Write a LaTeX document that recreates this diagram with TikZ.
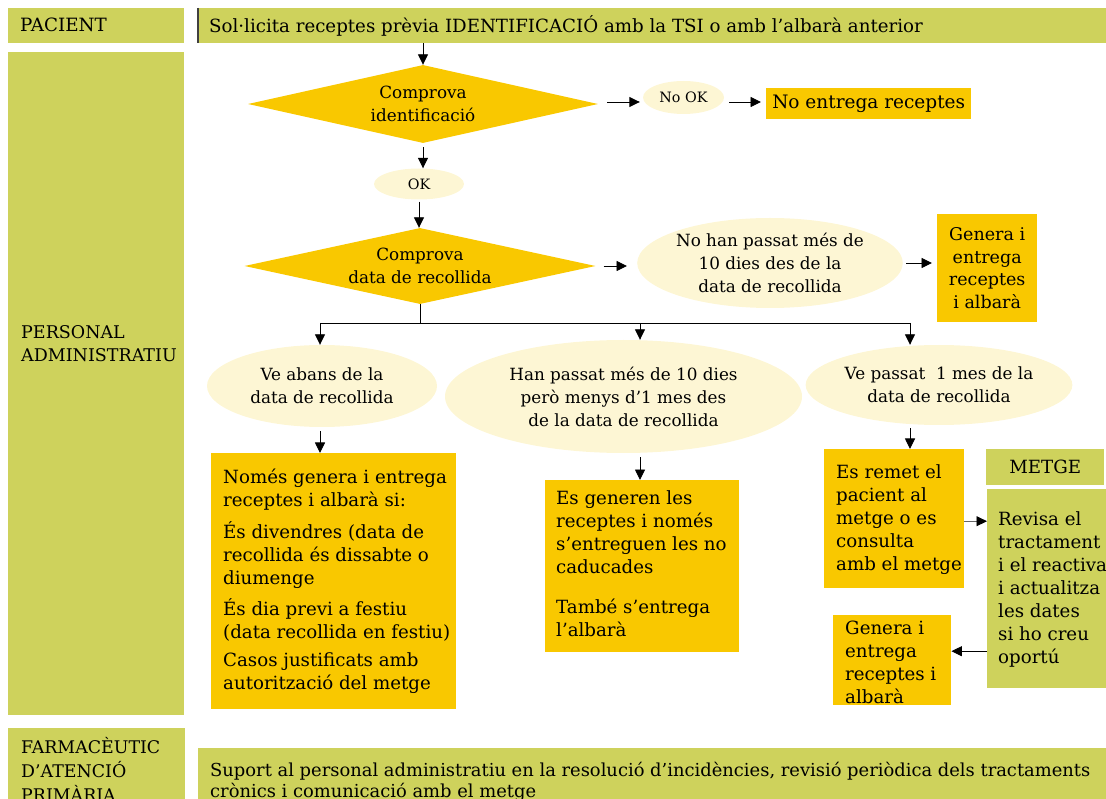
\documentclass[tikz,border=0pt]{standalone}
\usepackage{fontspec}
\setmainfont{DejaVu Serif}
\usetikzlibrary{shapes.geometric,arrows.meta}
\definecolor{olivec}{RGB}{206,210,92}
\definecolor{goldc}{RGB}{249,200,0}
\definecolor{creamc}{RGB}{253,246,212}
\newcommand\wtxt{\fontsize{18.2}{23}\selectfont}
\newcommand\etxt{\fontsize{16.8}{23}\selectfont}
\tikzset{
 olivebox/.style={fill=olivec, draw=none, inner sep=0pt, anchor=north west},
 goldbox/.style={fill=goldc, draw=none, inner sep=0pt, anchor=north west},
 ell/.style={ellipse, fill=creamc, draw=none, inner sep=0pt, align=center, font=\etxt},
 dia/.style={diamond, fill=goldc, draw=none, inner sep=0pt, align=center, font=\etxt, aspect=4.4},
 ltxt/.style={inner sep=0pt, align=left, anchor=west, font=\wtxt},
 arr/.style={-{Triangle[length=10.5pt,width=10pt,color=black]}, line width=0.9pt, black},
 plain/.style={line width=0.9pt, black},
}
\begin{document}
\begin{tikzpicture}[x=1pt,y=-1pt]
\clip (0,0) rectangle (1106,799);
% left column
\node[olivebox, minimum width=176, minimum height=35] (pac) at (8,7.5) {};
\node[ltxt, font={\fontsize{18.3}{23}\selectfont}] (pact) at (20,25) {PACIENT};
\node[olivebox, minimum width=176, minimum height=663] (pers) at (8,52) {};
\node[ltxt, font={\fontsize{17.5}{23}\selectfont}] (perst) at (21,343.5) {PERSONAL\\ADMINISTRATIU};
\node[olivebox, minimum width=177, minimum height=90] (farm) at (8,728) {};
\node[ltxt, font={\fontsize{17.4}{24}\selectfont}] (farmt) at (21,769.5) {FARMACÈUTIC\\D’ATENCIÓ\\PRIMÀRIA};
% header
\node[olivebox, minimum width=909, minimum height=35] (hdr) at (197,8) {};
\draw[line width=2pt, black!75] ([xshift=1pt]hdr.north west) -- ([xshift=1pt]hdr.south west);
\node[ltxt, font={\fontsize{18.2}{22}\selectfont}] (hdrt) at (209,25.5) {Sol·licita receptes prèvia IDENTIFICACIÓ amb la TSI o amb l’albarà anterior};
% bottom
\node[olivebox, minimum width=908, minimum height=70] (sup) at (198,748) {};
\node[ltxt, font={\fontsize{17.9}{21.5}\selectfont}] (supt) at (210,782) {Suport al personal administratiu en la resolució d’incidències, revisió periòdica dels tractaments\\crònics i comunicació amb el metge};
% diamond 1
\node[dia, minimum width=350, minimum height=78] (d1) at (423,104) {Comprova\\identificació};
\node[ell, minimum width=81, minimum height=33, font={\fontsize{14.3}{17}\selectfont}] (nook) at (683.5,97.5) {No OK};
\node[goldbox, minimum width=205, minimum height=31, font={\fontsize{18.5}{22}\selectfont}] (noent) at (766,88) {No entrega receptes};
\draw[arr] ([xshift=9pt,yshift=2pt]d1.east) -- ([xshift=-3pt,yshift=2pt]d1.east -| nook.west);
\draw[arr] ([xshift=5pt,yshift=2pt]nook.east |- d1.east) -- ([xshift=-5pt,yshift=2pt]noent.west |- d1.east);
\node[ell, minimum width=90, minimum height=31, font={\fontsize{14.3}{17}\selectfont}] (ok) at (419,184) {OK};
\draw[arr] (d1.north |- hdr.south) -- (d1.north);
\draw[arr] ([yshift=-4pt]d1.south) -- (d1.south |- ok.north);
% diamond 2
\node[dia, minimum width=351, minimum height=76] (d2) at (420,266) {Comprova\\data de recollida};
\draw[arr] ([yshift=-2pt]ok.south) -- (ok.south |- d2.north);
\node[ell, minimum width=254, minimum height=90] (e0) at (770,263) {No han passat més de\\10 dies des de la\\data de recollida};
\draw[arr] ([xshift=8pt]d2.east) -- ([xshift=-10pt]d2.east -| e0.west);
\node[goldbox, minimum width=100, minimum height=108, align=center, font={\fontsize{17.5}{22.7}\selectfont}] (g1) at (937,214) {Genera i\\entrega\\receptes\\i albarà};
\draw[arr] ([xshift=3pt]e0.east) -- ([xshift=-5pt]g1.west |- e0.east);
% branches
\coordinate (bl) at (320,323);
\coordinate (bm) at (640,323);
\coordinate (br) at (910,323);
\draw[plain] (d2.south) -- (d2.south |- bl);
\draw[plain] (bl) -- (br);
\node[ell, minimum width=230, minimum height=82] (e1) at (322,386) {Ve abans de la\\data de recollida};
\node[ell, minimum width=357, minimum height=113] (e2) at (623.5,396.5) {Han passat més de 10 dies\\però menys d’1 mes des\\de la data de recollida};
\node[ell, minimum width=248, minimum height=80] (e3) at (939,385) {Ve passat \ 1 mes de la\\data de recollida};
\draw[arr] (bl) -- (bl |- e1.north);
\draw[arr] (bm) -- (bm |- e2.north);
\draw[arr] (br) -- (br |- e3.north);
% box 1
\node[goldbox, minimum width=245, minimum height=256] (b1) at (211,453) {};
\node[ltxt] (b1t) at (223,581) {Només genera i entrega\\receptes i albarà si:\\[9pt]És divendres (data de\\recollida és dissabte o\\diumenge\\[8pt]És dia previ a festiu\\(data recollida en festiu)\\[5pt]Casos justificats amb\\autorització del metge};
\draw[arr] ([yshift=-4pt]bl |- e1.south) -- (bl |- b1.north);
% box 2
\node[goldbox, minimum width=194, minimum height=172] (b2) at (545,480) {};
\node[ltxt] (b2t) at (556,564) {Es generen les\\receptes i només\\s’entreguen les no\\caducades\\[17pt]També s’entrega\\l’albarà};
\draw[arr] ([yshift=-4pt]bm |- e2.south) -- (bm |- b2.north);
% box 3
\node[goldbox, minimum width=140, minimum height=139] (b3) at (824,449) {};
\node[ltxt] (b3t) at (836,519.5) {Es remet el\\pacient al\\metge o es\\consulta\\amb el metge};
\draw[arr] ([yshift=-3pt]br |- e3.south) -- (br |- b3.north);
% metge
\node[olivebox, minimum width=118, minimum height=36, font=\wtxt] (mtg) at (986,449) {METGE};
\node[olivebox, minimum width=125, minimum height=199] (rv) at (987,489) {};
\node[ltxt] (rvt) at (998,589) {Revisa el\\tractament\\i el reactiva\\i actualitza\\les dates\\si ho creu\\oportú};
% box 4
\node[goldbox, minimum width=118, minimum height=90] (b4) at (833,615) {};
\node[ltxt] (b4t) at (845,662) {Genera i\\entrega\\receptes i\\albarà};
\draw[arr, draw=black!60] ([yshift=-2.5pt]b3.east) -- ([yshift=-2.5pt]b3.east -| rv.west);
\draw[arr] ([yshift=9pt]rv.west |- b4.east) -- ([yshift=9pt]b4.east);
\end{tikzpicture}
\end{document}
